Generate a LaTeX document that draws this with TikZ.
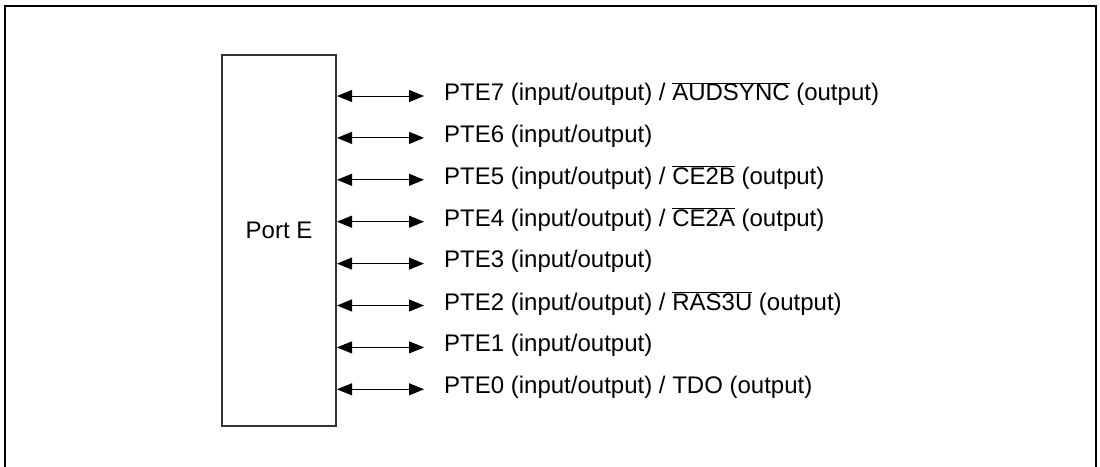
\documentclass[tikz,border=0pt]{standalone}
\usepackage{fontspec}
\setmainfont{Liberation Sans}
\usetikzlibrary{arrows.meta}
\newcommand{\ovl}[1]{$\overline{\mbox{#1}}$}
\begin{document}
\begin{tikzpicture}[x=1pt,y=-1pt,
  frame/.style={line width=2.2pt},
  portbox/.style={draw=black!80,line width=1.1pt},
  bidir/.style={line width=1pt,{Triangle[length=15pt,width=12pt]}-{Triangle[length=15pt,width=12pt]}},
  lbl/.style={anchor=west,inner sep=0pt,font=\fontsize{24}{28}\selectfont}]
\useasboundingbox (0,0) rectangle (1100,466);
\draw[frame] (5,475) -- (5,6) -- (1096,6) -- (1096,475);
\draw[portbox] (222,55) rectangle (336,426);
\node[font=\fontsize{24}{28}\selectfont] (port) at (279,230) {Port E};
\foreach \i/\t [count=\k from 0] in {
  7/{PTE7 (input/output) / \ovl{AUDSYNC} (output)},
  6/{PTE6 (input/output)},
  5/{PTE5 (input/output) / \ovl{CE2B} (output)},
  4/{PTE4 (input/output) / \ovl{CE2A} (output)},
  3/{PTE3 (input/output)},
  2/{PTE2 (input/output) / \ovl{RAS3U} (output)},
  1/{PTE1 (input/output)},
  0/{PTE0 (input/output) / TDO (output)}}{
  \coordinate (a\i) at (337,96+41.9*\k);
  \coordinate (b\i) at (424,96+41.9*\k);
  \draw[bidir] (a\i) -- (b\i);
  \node[lbl] (t\i) at (444,94+41.9*\k) {\t};
}
\end{tikzpicture}
\end{document}
